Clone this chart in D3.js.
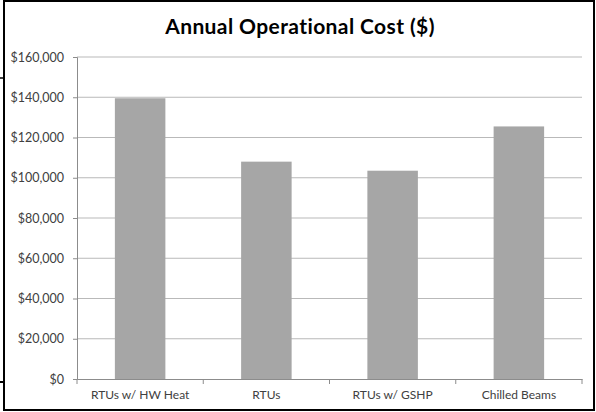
<!DOCTYPE html>
<html>
<head>
<meta charset="utf-8">
<script src="https://cdn.jsdelivr.net/npm/d3@7"></script>
<style>
  body { margin: 0; background: #fff; }
  .tick text { font-family: Lato, "Open Sans", sans-serif; }
</style>
</head>
<body>
<div id="chart"></div>
<script>
// Chart data
var categories = ["RTUs w/ HW Heat", "RTUs", "RTUs w/ GSHP", "Chilled Beams"];
var costs = [139500, 108000, 103500, 125500];
var yTicks = [0, 20000, 40000, 60000, 80000, 100000, 120000, 140000, 160000];

var svgWidth = 596;
var svgHeight = 412;

var margin = { top: 57, bottom: 33, left: 77, right: 14 };
var width = svgWidth - margin.left - margin.right;
var height = svgHeight - margin.top - margin.bottom;

var svg = d3.select("#chart")
    .append("svg")
    .attr("width", svgWidth)
    .attr("height", svgHeight);

// outer frame
svg.append("rect")
    .attr("x", 4).attr("y", 1)
    .attr("width", 590).attr("height", 409)
    .attr("fill", "none")
    .attr("stroke", "#000")
    .attr("stroke-width", 2);

// little marks left over from the page behind
svg.append("line").attr("x1", 0).attr("x2", 4).attr("y1", 78).attr("y2", 78)
    .attr("stroke", "#000").attr("stroke-width", 1.5);
svg.append("line").attr("x1", 0).attr("x2", 4).attr("y1", 382).attr("y2", 382)
    .attr("stroke", "#000").attr("stroke-width", 2);

var chartGroup = svg.append("g")
    .attr("transform", `translate(${margin.left}, ${margin.top})`);

var xScale = d3.scaleBand()
    .domain(categories)
    .range([0, width])
    .paddingInner(0.6)
    .paddingOuter(0.3);

var yScale = d3.scaleLinear()
    .domain([0, 160000])
    .range([height, 0]);

// gridlines
chartGroup.selectAll(".grid")
    .data(yTicks.slice(1))
    .enter()
    .append("line")
    .attr("class", "grid")
    .attr("x1", 0)
    .attr("x2", width)
    .attr("y1", d => yScale(d))
    .attr("y2", d => yScale(d))
    .attr("stroke", "#b9b9b9")
    .attr("stroke-width", 1);

// bars
chartGroup.selectAll(".bar")
    .data(costs)
    .enter()
    .append("rect")
    .attr("class", "bar")
    .attr("x", (d, i) => xScale(categories[i]))
    .attr("y", d => yScale(d))
    .attr("width", xScale.bandwidth())
    .attr("height", d => height - yScale(d))
    .attr("fill", "#a6a6a6");

// y axis
var leftAxis = d3.axisLeft(yScale)
    .tickValues(yTicks)
    .tickSize(4)
    .tickPadding(9)
    .tickFormat(d => "$" + d3.format(",")(d));

var yAxisG = chartGroup.append("g").call(leftAxis);
yAxisG.select(".domain").attr("stroke", "#8c8c8c");
yAxisG.selectAll(".tick line").attr("stroke", "#8c8c8c");
yAxisG.selectAll(".tick text")
    .attr("fill", "#404040")
    .style("font-size", "12.5px");

// x axis with ticks at the category boundaries
var xAxisG = chartGroup.append("g")
    .attr("transform", `translate(0, ${height})`)
    .call(d3.axisBottom(xScale).tickSize(0).tickPadding(11));
xAxisG.select(".domain").attr("stroke", "#8c8c8c");
xAxisG.selectAll(".tick text")
    .attr("fill", "#404040")
    .style("font-size", "12px");

var bounds = d3.range(categories.length + 1).map(i => i * width / categories.length);
xAxisG.selectAll(".bound")
    .data(bounds)
    .enter()
    .append("line")
    .attr("class", "bound")
    .attr("x1", d => d).attr("x2", d => d)
    .attr("y1", 0).attr("y2", 5)
    .attr("stroke", "#8c8c8c");

// title
svg.append("text")
    .attr("x", 300)
    .attr("y", 34)
    .attr("text-anchor", "middle")
    .style("font-family", "Lato, 'Open Sans', sans-serif")
    .style("font-weight", "bold")
    .style("font-size", "21px")
    .style("letter-spacing", "0.4px")
    .attr("fill", "#000")
    .text("Annual Operational Cost ($)");
</script>
</body>
</html>
